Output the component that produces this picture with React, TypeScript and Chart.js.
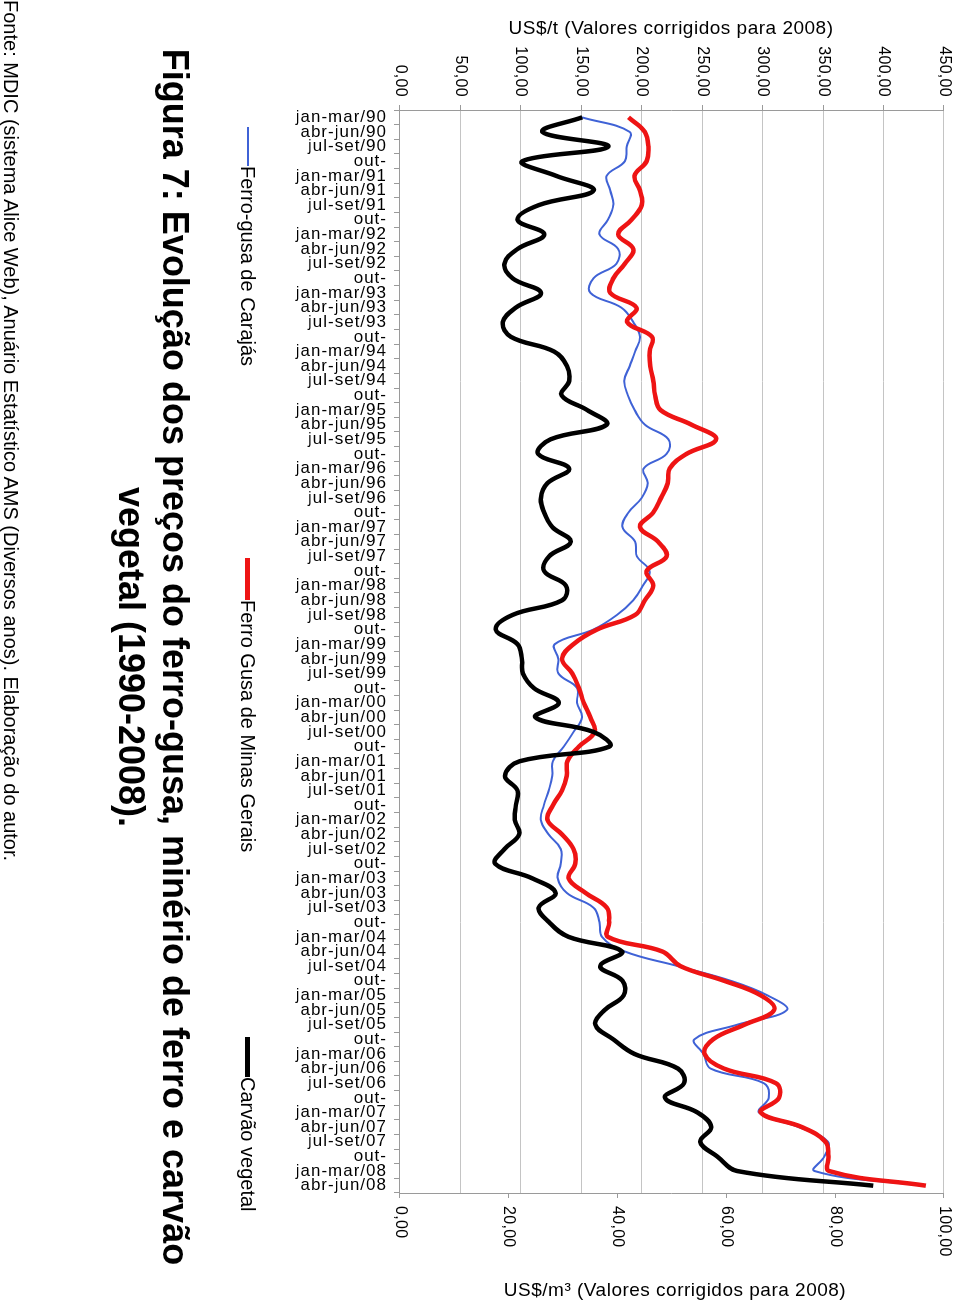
import React, { useEffect, useRef } from "react";
import { Chart, registerables } from "chart.js";

Chart.register(...registerables);

const categories = [
  "jan-mar/90", "abr-jun/90", "jul-set/90", "out-",
  "jan-mar/91", "abr-jun/91", "jul-set/91", "out-",
  "jan-mar/92", "abr-jun/92", "jul-set/92", "out-",
  "jan-mar/93", "abr-jun/93", "jul-set/93", "out-",
  "jan-mar/94", "abr-jun/94", "jul-set/94", "out-",
  "jan-mar/95", "abr-jun/95", "jul-set/95", "out-",
  "jan-mar/96", "abr-jun/96", "jul-set/96", "out-",
  "jan-mar/97", "abr-jun/97", "jul-set/97", "out-",
  "jan-mar/98", "abr-jun/98", "jul-set/98", "out-",
  "jan-mar/99", "abr-jun/99", "jul-set/99", "out-",
  "jan-mar/00", "abr-jun/00", "jul-set/00", "out-",
  "jan-mar/01", "abr-jun/01", "jul-set/01", "out-",
  "jan-mar/02", "abr-jun/02", "jul-set/02", "out-",
  "jan-mar/03", "abr-jun/03", "jul-set/03", "out-",
  "jan-mar/04", "abr-jun/04", "jul-set/04", "out-",
  "jan-mar/05", "abr-jun/05", "jul-set/05", "out-",
  "jan-mar/06", "abr-jun/06", "jul-set/06", "out-",
  "jan-mar/07", "abr-jun/07", "jul-set/07", "out-",
  "jan-mar/08", "abr-jun/08",
];

// US$/t
const carajas = [
  150.5, 190, 187.5, 186, 171, 174, 176.5, 172, 165, 180.5,
  179, 160, 157.5, 183, 193, 198.5, 194.5, 190, 185.5, 188.5,
  194, 202.5, 222, 220.5, 201.5, 205, 200, 189, 184, 194.5,
  196, 206.5, 201, 193, 179.5, 160, 128, 131, 131, 146.5,
  146.5, 150.5, 143.5, 135.5, 126.5, 126, 123, 119, 116.5, 123,
  133, 133, 130.5, 138, 160, 165, 167, 186, 230, 273.5,
  304, 320, 279, 243.5, 251, 257, 301, 305, 297, 330,
  354, 351, 343, 432,
];

// US$/t
const minasGerais = [
  189, 202.5, 205.5, 204, 194, 198.5, 200, 191.5, 180.5, 193,
  186, 176.5, 174, 195.5, 188, 208.5, 206.5, 207, 209.5, 211,
  215.5, 241, 261.5, 237, 223, 221.5, 216, 209.5, 198.5, 213.5,
  220.5, 204, 209.5, 202.5, 194.5, 163, 143.5, 134, 142.5, 148,
  152, 157.5, 161, 148, 138.5, 138, 134, 126.5, 122, 134,
  143.5, 145, 139.5, 153.5, 171, 173, 172, 217, 232, 268,
  298.5, 309.5, 285, 259, 252, 268, 311, 313.5, 298.5, 332.5,
  352, 354.5, 355, 435,
];

// US$/m3
const carvao = [
  33.5, 26.2, 38.3, 22.5, 28.7, 35.6, 25.5, 21.6, 26.5, 21.6,
  19.2, 20.7, 25.9, 21.3, 18.9, 20.4, 28.3, 30.7, 31.1, 29.7,
  34.4, 38, 27.7, 25.4, 31.1, 27.1, 25.9, 26.5, 28, 31.4,
  27.4, 26.5, 30.5, 29.8, 20.7, 17.6, 21.6, 22.4, 22.6, 24.6,
  29.2, 24.9, 35.6, 38.5, 22, 19.3, 21.6, 21.3, 21.1, 21.9,
  19.2, 17.5, 24.3, 28.6, 25.5, 27.4, 31, 40.8, 36.8, 40.9,
  41.1, 37.6, 35.9, 39.2, 43.1, 51.1, 52.2, 48.7, 54.7, 57.2,
  55.2, 58.3, 62, 87,
];

const leftTickLabels = ["0,00", "50,00", "100,00", "150,00", "200,00", "250,00", "300,00", "350,00", "400,00", "450,00"];
const rightTickLabels = ["0,00", "20,00", "40,00", "60,00", "80,00", "100,00"];

const seriesNames = ["Ferro-gusa de Carajás", "Ferro Gusa de Minas Gerais", "Carvão vegetal"];
const seriesColors = ["#3f62d6", "#ee1414", "#000000"];

const FONT = "'Liberation Sans', Arial, Helvetica, sans-serif";
const AXIS = "#9a9a9a";
const GRID = "#c4c4c4";

const spacingPlugin = {
  id: "letterSpacing",
  beforeUpdate(chart: any) {
    chart.ctx.letterSpacing = "1px";
  },
  beforeDraw(chart: any) {
    chart.ctx.letterSpacing = "1px";
    ["y", "y1"].forEach((id) => {
      const s = chart.scales[id];
      if (s && !s.__wrapped) {
        const orig = s.drawLabels;
        s.drawLabels = function (area: any) {
          const ctx = this.ctx;
          const prev = ctx.letterSpacing;
          ctx.letterSpacing = "0.3px";
          orig.call(this, area);
          ctx.letterSpacing = prev;
        };
        s.__wrapped = true;
      }
    });
  },
};

export default function App() {
  const ref = useRef<HTMLCanvasElement | null>(null);

  useEffect(() => {
    if (!ref.current) return;
    const chart = new Chart(ref.current, {
      type: "line",
      data: {
        labels: categories,
        datasets: [
          {
            label: seriesNames[0],
            data: carajas,
            borderColor: seriesColors[0],
            backgroundColor: seriesColors[0],
            borderWidth: 2,
            pointRadius: 0,
            tension: 0.4,
            yAxisID: "y",
            order: 3,
          },
          {
            label: seriesNames[1],
            data: minasGerais,
            borderColor: seriesColors[1],
            backgroundColor: seriesColors[1],
            borderWidth: 4.5,
            pointRadius: 0,
            tension: 0.4,
            yAxisID: "y",
            order: 2,
          },
          {
            label: seriesNames[2],
            data: carvao,
            borderColor: seriesColors[2],
            backgroundColor: seriesColors[2],
            borderWidth: 4.5,
            pointRadius: 0,
            tension: 0.4,
            yAxisID: "y1",
            order: 1,
          },
        ],
      },
      options: {
        animation: false,
        responsive: false,
        layout: { padding: { top: 12, left: 0, right: 0, bottom: 0 } },
        plugins: {
          legend: { display: false },
          tooltip: { enabled: false },
          title: { display: false },
        },
        scales: {
          x: {
            type: "category",
            offset: true,
            grid: {
              offset: true,
              drawOnChartArea: false,
              drawTicks: true,
              tickLength: 6,
              color: AXIS,
            },
            border: { display: true, color: AXIS },
            ticks: {
              autoSkip: false,
              maxRotation: 90,
              minRotation: 90,
              padding: 7,
              color: "#000",
              font: { family: FONT, size: 17, lineHeight: 1 },
            },
            afterFit: (s: any) => {
              s.height = 400;
            },
          },
          y: {
            position: "left",
            min: 0,
            max: 450,
            ticks: {
              stepSize: 50,
              padding: 8,
              color: "#000",
              font: { family: FONT, size: 16, lineHeight: 1 },
              callback: (_v: any, i: number) => leftTickLabels[i],
            },
            grid: { color: GRID, tickColor: AXIS, tickLength: 5 },
            border: { display: true, color: AXIS },
            afterFit: (s: any) => {
              s.width = 110;
            },
          },
          y1: {
            position: "right",
            min: 0,
            max: 100,
            ticks: {
              stepSize: 20,
              padding: 8,
              color: "#000",
              font: { family: FONT, size: 16, lineHeight: 1 },
              callback: (_v: any, i: number) => rightTickLabels[i],
            },
            grid: { drawOnChartArea: false, color: AXIS, tickLength: 5 },
            border: { display: true, color: AXIS },
            afterFit: (s: any) => {
              s.width = 110;
            },
          },
        },
      },
      plugins: [spacingPlugin],
    } as any);
    return () => chart.destroy();
  }, []);

  const legendItems = [
    { lineLeft: 127, textLeft: 166, thick: 2 },
    { lineLeft: 558, textLeft: 600, thick: 5 },
    { lineLeft: 1037, textLeft: 1077, thick: 5 },
  ];

  return (
    <div
      style={{
        position: "fixed",
        left: 0,
        top: 0,
        width: 960,
        height: 1303,
        background: "#fff",
        overflow: "hidden",
        fontFamily: FONT,
        color: "#000",
      }}
    >
      <div
        style={{
          position: "absolute",
          left: 0,
          top: 0,
          width: 1303,
          height: 960,
          transformOrigin: "0 0",
          transform: "translate(960px, 0) rotate(90deg)",
        }}
      >
        <canvas
          ref={ref}
          width={1303}
          height={960}
          style={{ position: "absolute", left: 0, top: 0, width: 1303, height: 960 }}
        />
        {legendItems.map((it, k) => (
          <React.Fragment key={k}>
            <div
              style={{
                position: "absolute",
                left: it.lineLeft,
                top: 712 - it.thick / 2,
                width: it.textLeft - it.lineLeft,
                height: it.thick,
                background: seriesColors[k],
              }}
            />
            <div
              style={{
                position: "absolute",
                left: it.textLeft,
                top: 700,
                fontSize: 20,
                lineHeight: "24px",
                whiteSpace: "nowrap",
              }}
            >
              {seriesNames[k]}
            </div>
          </React.Fragment>
        ))}
        <div
          style={{
            position: "absolute",
            left: 0,
            top: 763,
            width: 1314,
            textAlign: "center",
            fontSize: 36,
            fontWeight: "bold",
            lineHeight: "44px",
            whiteSpace: "nowrap",
          }}
        >
          Figura 7: Evolução dos preços do ferro-gusa, minério de ferro e carvão
          <br />
          vegetal (1990-2008).
        </div>
        <div
          style={{
            position: "absolute",
            left: 0,
            top: 939,
            fontSize: 20,
            lineHeight: "20px",
            whiteSpace: "nowrap",
          }}
        >
          Fonte: MDIC (sistema Alice Web), Anuário Estatístico AMS (Diversos anos). Elaboração do autor.
        </div>
      </div>
      <div
        style={{
          position: "absolute",
          left: 421,
          top: 17,
          width: 500,
          textAlign: "center",
          fontSize: 19,
          letterSpacing: "0.5px",
          lineHeight: "22px",
          whiteSpace: "nowrap",
        }}
      >
        US$/t (Valores corrigidos para 2008)
      </div>
      <div
        style={{
          position: "absolute",
          left: 425,
          top: 1279,
          width: 500,
          textAlign: "center",
          fontSize: 19,
          letterSpacing: "0.5px",
          lineHeight: "22px",
          whiteSpace: "nowrap",
        }}
      >
        US$/m³ (Valores corrigidos para 2008)
      </div>
    </div>
  );
}
